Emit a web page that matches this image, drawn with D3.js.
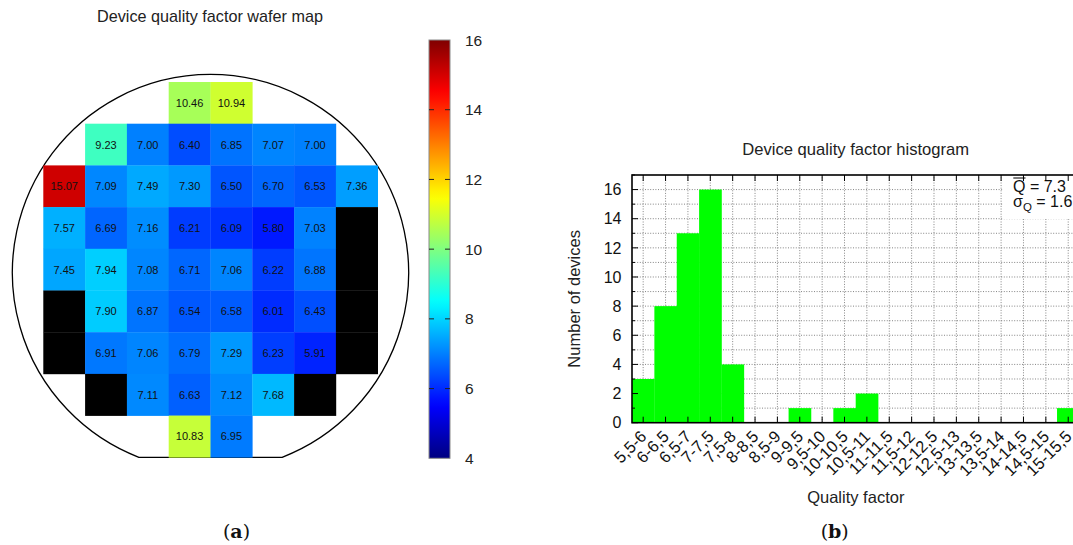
<!DOCTYPE html>
<html>
<head>
<meta charset="utf-8">
<script src="https://cdn.jsdelivr.net/npm/d3@7"></script>
<style>
  html, body { margin: 0; padding: 0; background: #fff; }
  svg { display: block; font-family: "Liberation Sans", Arial, sans-serif; }
</style>
</head>
<body>
<svg id="fig" width="1073" height="545"></svg>
<script>
// ---- Wafer map: quality factor per die (null = no die, 0 = failed die) ----
const waferRow1 = [null, null, null, 10.46, 10.94, null, null, null];
const waferRow2 = [null, 9.23, 7.00, 6.40, 6.85, 7.07, 7.00, null];
const waferRow3 = [15.07, 7.09, 7.49, 7.30, 6.50, 6.70, 6.53, 7.36];
const waferRow4 = [7.57, 6.69, 7.16, 6.21, 6.09, 5.80, 7.03, 0];
const waferRow5 = [7.45, 7.94, 7.08, 6.71, 7.06, 6.22, 6.88, 0];
const waferRow6 = [0, 7.90, 6.87, 6.54, 6.58, 6.01, 6.43, 0];
const waferRow7 = [0, 6.91, 7.06, 6.79, 7.29, 6.23, 5.91, 0];
const waferRow8 = [null, 0, 7.11, 6.63, 7.12, 7.68, 0, null];
const waferRow9 = [null, null, null, 10.83, 6.95, null, null, null];
const waferRows = [waferRow1, waferRow2, waferRow3, waferRow4, waferRow5,
                   waferRow6, waferRow7, waferRow8, waferRow9];
const colorbarTicks = [4, 6, 8, 10, 12, 14, 16];

// ---- Histogram ----
const binLabels = ["5,5-6", "6-6,5", "6,5-7", "7-7,5", "7,5-8", "8-8,5", "8,5-9",
  "9-9,5", "9,5-10", "10-10,5", "10,5-11", "11-11,5", "11,5-12", "12-12,5",
  "12,5-13", "13-13,5", "13,5-14", "14-14,5", "14,5-15", "15-15,5"];
const binCounts = [3, 8, 13, 16, 4, 0, 0, 1, 0, 1, 2, 0, 0, 0, 0, 0, 0, 0, 0, 1];
const yTicks = [0, 2, 4, 6, 8, 10, 12, 14, 16];
const meanQ = "7.3";
const sigmaQ = "1.6";

const svg = d3.select("#fig");

// jet colour map on [0,1]
function jet(t) {
  t = Math.max(0, Math.min(1, t));
  const c = v => Math.round(255 * Math.max(0, Math.min(1, v)));
  const r = Math.min(4 * t - 1.5, -4 * t + 4.5);
  const g = Math.min(4 * t - 0.5, -4 * t + 3.5);
  const b = Math.min(4 * t + 0.5, -4 * t + 2.5);
  return `rgb(${c(r)},${c(g)},${c(b)})`;
}

// ================= (a) wafer map =================
const qMin = 4, qMax = 16;
const colorQ = v => jet((v - qMin) / (qMax - qMin));
const nCols = 8, nRows = 9;
const gx = d3.scaleLinear().domain([0, nCols]).range([43.3, 377.7]);
const gy = d3.scaleLinear().domain([0, nRows]).range([82, 457.3]);

const wafer = svg.append("g");

// wafer outline: circle with a flat at the bottom edge of the die grid
{
  const cx = gx(4), cy = gy(4.57);
  const R = gx(4.74) - gx(0);
  const yFlat = gy(nRows);
  const dx = Math.sqrt(R * R - (yFlat - cy) * (yFlat - cy));
  wafer.append("path")
    .attr("d", `M${cx - dx},${yFlat} A${R},${R} 0 1 1 ${cx + dx},${yFlat} Z`)
    .attr("fill", "none").attr("stroke", "#000").attr("stroke-width", 1.3);
}

const cells = [];
waferRows.forEach((row, r) => row.forEach((v, c) => {
  if (v !== null) cells.push({ r, c, v });
}));

wafer.selectAll("rect.die").data(cells).join("rect")
  .attr("class", "die")
  .attr("x", d => gx(d.c)).attr("y", d => gy(d.r))
  .attr("width", gx(1) - gx(0) + 0.3).attr("height", gy(1) - gy(0) + 0.3)
  .attr("fill", d => d.v === 0 ? "#000" : colorQ(d.v));

wafer.selectAll("text.val").data(cells.filter(d => d.v !== 0)).join("text")
  .attr("class", "val")
  .attr("x", d => gx(d.c + 0.5)).attr("y", d => gy(d.r + 0.5))
  .attr("dy", "0.36em")
  .attr("text-anchor", "middle")
  .attr("font-size", 11).attr("fill", "#111")
  .text(d => d.v.toFixed(2));

svg.append("text").attr("x", 210).attr("y", 22)
  .attr("text-anchor", "middle").attr("font-size", 16.2).attr("fill", "#222")
  .text("Device quality factor wafer map");

// colour bar
const cbX = 429, cbW = 21;
const cy = d3.scaleLinear().domain([qMin, qMax]).range([458.3, 40]);
const defs = svg.append("defs");
const grad = defs.append("linearGradient").attr("id", "jetGrad")
  .attr("x1", 0).attr("y1", 1).attr("x2", 0).attr("y2", 0);
d3.range(0, 1.0001, 0.02).forEach(t => {
  grad.append("stop").attr("offset", t).attr("stop-color", jet(t));
});
svg.append("rect").attr("x", cbX).attr("y", cy(qMax))
  .attr("width", cbW).attr("height", cy(qMin) - cy(qMax))
  .attr("fill", "url(#jetGrad)").attr("stroke", "#8a8a8a").attr("stroke-width", 1);
const cbTicks = svg.append("g");
cbTicks.selectAll("line.l").data(colorbarTicks.slice(1, -1)).join("line")
  .attr("x1", cbX).attr("x2", cbX + 5).attr("y1", d => cy(d)).attr("y2", d => cy(d))
  .attr("stroke", "#222").attr("stroke-width", 1);
cbTicks.selectAll("line.r").data(colorbarTicks.slice(1, -1)).join("line")
  .attr("x1", cbX + cbW - 5).attr("x2", cbX + cbW).attr("y1", d => cy(d)).attr("y2", d => cy(d))
  .attr("stroke", "#222").attr("stroke-width", 1);
cbTicks.selectAll("text").data(colorbarTicks).join("text")
  .attr("x", 465).attr("y", d => cy(d)).attr("dy", "0.36em")
  .attr("font-size", 15.5).attr("fill", "#222")
  .text(d => d);

// caption (a)
const capA = svg.append("text").attr("x", 236.5).attr("y", 538)
  .attr("text-anchor", "middle").attr("font-family", "'DejaVu Serif', 'Liberation Serif', serif")
  .attr("font-size", 19).attr("fill", "#111");
capA.append("tspan").text("(");
capA.append("tspan").attr("font-weight", "bold").text("a");
capA.append("tspan").text(")");

// ================= (b) histogram =================
const hx = d3.scaleBand().domain(binLabels).range([632, 632 + 20 * 22.37]).padding(0);
const hy = d3.scaleLinear().domain([0, 17]).range([422.7, 175]);
const left = hx.range()[0], right = hx.range()[1];
const bw = hx.bandwidth();
const hist = svg.append("g");

// grid
hist.selectAll("line.hg").data(d3.range(1, 17)).join("line")
  .attr("x1", left).attr("x2", right)
  .attr("y1", d => hy(d)).attr("y2", d => hy(d))
  .attr("stroke", "#666").attr("stroke-width", 0.8).attr("stroke-dasharray", "1,1.6");
hist.selectAll("line.vg").data(binLabels).join("line")
  .attr("x1", d => hx(d) + bw / 2).attr("x2", d => hx(d) + bw / 2)
  .attr("y1", hy(0)).attr("y2", hy(17))
  .attr("stroke", "#666").attr("stroke-width", 0.8).attr("stroke-dasharray", "1,1.6");

// bars
hist.selectAll("rect.bar").data(binLabels.map((l, i) => ({ l, n: binCounts[i] })).filter(d => d.n > 0))
  .join("rect").attr("class", "bar")
  .attr("x", d => hx(d.l)).attr("width", bw + 0.3)
  .attr("y", d => hy(d.n)).attr("height", d => hy(0) - hy(d.n))
  .attr("fill", "#00ff00");

// legend box with statistics
hist.append("rect").attr("x", 1002.5).attr("y", hy(17)).attr("width", 80).attr("height", 44)
  .attr("fill", "#fff");
const st1 = hist.append("text").attr("x", 1013).attr("y", 192.3)
  .attr("font-size", 16).attr("fill", "#111");
st1.append("tspan").text("Q");
st1.append("tspan").text(" = " + meanQ);
hist.append("line").attr("x1", 1013.3).attr("x2", 1025.5).attr("y1", 178).attr("y2", 178)
  .attr("stroke", "#111").attr("stroke-width", 1.1);
const st2 = hist.append("text").attr("x", 1013).attr("y", 207.3)
  .attr("font-size", 16).attr("fill", "#111");
st2.append("tspan").text("σ");
st2.append("tspan").attr("font-size", 11.5).attr("dy", 4).text("Q");
st2.append("tspan").attr("dy", -4).text(" = " + sigmaQ);

// ticks (inward, mirrored)
const tk = hist.append("g").attr("stroke", "#000").attr("stroke-width", 1);
d3.range(0, 18).forEach(v => {
  const len = v % 2 === 0 ? 6 : 3;
  tk.append("line").attr("x1", left).attr("x2", left + len).attr("y1", hy(v)).attr("y2", hy(v));
});
binLabels.forEach(l => {
  const x = hx(l) + bw / 2;
  tk.append("line").attr("x1", x).attr("x2", x).attr("y1", hy(0)).attr("y2", hy(0) - 6);
  tk.append("line").attr("x1", x).attr("x2", x).attr("y1", hy(17)).attr("y2", hy(17) + 6);
});

// frame
hist.append("rect").attr("x", left).attr("y", hy(17))
  .attr("width", right - left).attr("height", hy(0) - hy(17))
  .attr("fill", "none").attr("stroke", "#000").attr("stroke-width", 1.6);

// y tick labels
hist.selectAll("text.yt").data(yTicks).join("text").attr("class", "yt")
  .attr("x", 621.5).attr("y", d => hy(d)).attr("dy", "0.36em")
  .attr("text-anchor", "end").attr("font-size", 16).attr("fill", "#111")
  .text(d => d);

// x tick labels, rotated
hist.selectAll("text.xt").data(binLabels).join("text").attr("class", "xt")
  .attr("transform", d => `translate(${hx(d) + bw / 2 - 4},${hy(0) + 6.5}) rotate(-45)`)
  .attr("text-anchor", "end").attr("dy", "0.72em")
  .attr("font-size", 16.5).attr("fill", "#111")
  .text(d => d);

// titles
svg.append("text").attr("x", (left + right) / 2).attr("y", 155)
  .attr("text-anchor", "middle").attr("font-size", 16.6).attr("fill", "#222")
  .text("Device quality factor histogram");
svg.append("text").attr("transform", `translate(580,${(hy(0) + hy(17)) / 2}) rotate(-90)`)
  .attr("text-anchor", "middle").attr("font-size", 16.5).attr("fill", "#222")
  .text("Number of devices");
svg.append("text").attr("x", 855.8).attr("y", 503)
  .attr("text-anchor", "middle").attr("font-size", 16.5).attr("fill", "#222")
  .text("Quality factor");

// caption (b)
const capB = svg.append("text").attr("x", 834.7).attr("y", 538)
  .attr("text-anchor", "middle").attr("font-family", "'DejaVu Serif', 'Liberation Serif', serif")
  .attr("font-size", 19).attr("fill", "#111");
capB.append("tspan").text("(");
capB.append("tspan").attr("font-weight", "bold").text("b");
capB.append("tspan").text(")");
</script>
</body>
</html>
